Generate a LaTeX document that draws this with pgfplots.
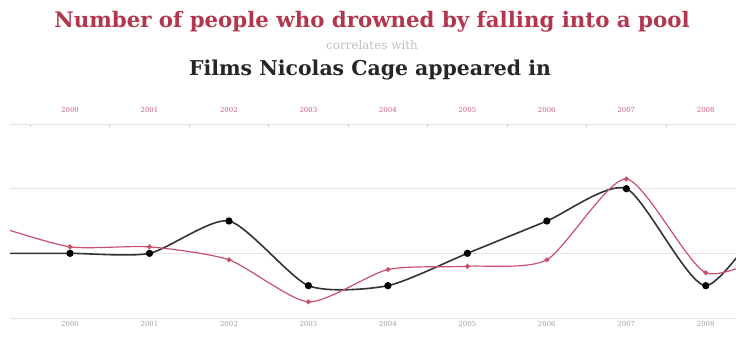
\documentclass[border=0pt]{standalone}
\usepackage{pgfplots}
\pgfplotsset{compat=1.18}
\usepackage{fontspec}
\setmainfont{DejaVu Serif}
\definecolor{titlered}{HTML}{B3364F}
\definecolor{linered}{HTML}{C9506D}
\definecolor{toplab}{HTML}{C9607A}
\definecolor{gridc}{HTML}{E3E3E3}
\definecolor{darkline}{HTML}{333333}
\begin{document}
\begin{tikzpicture}
\path[use as bounding box] (0,0) rectangle (736bp,340bp);
% black series (films)
\begin{axis}[
  at={(10bp,22bp)}, anchor=south west,
  scale only axis, width=726bp, height=194bp,
  xmin=1999.245, xmax=2008.38,
  ymin=0, ymax=6,
  ytick={0,2,4,6}, yticklabels={},
  ymajorgrids, grid style={gridc, line width=0.9pt},
  axis x line*=bottom, axis y line*=left,
  x axis line style={draw=none}, y axis line style={draw=none},
  xtick={2000,...,2008},
  xticklabel style={/pgf/number format/1000 sep={}, font=\fontsize{7}{8}\selectfont, text=gray!75},
  /pgf/number format/assume math mode=true,
  major tick length=0pt,
  clip=true,
]
\addplot[darkline, line width=1.6pt, smooth, tension=0.4, mark=*, mark size=2.8pt, mark options={fill=black, draw=black}]
coordinates {(1999,2) (2000,2) (2001,2) (2002,3) (2003,1) (2004,1) (2005,2) (2006,3) (2007,4) (2008,1) (2009,4)};
\end{axis}
% red series (drownings)
\begin{axis}[
  at={(10bp,22bp)}, anchor=south west,
  scale only axis, width=726bp, height=194bp,
  xmin=1999.245, xmax=2008.38,
  ymin=80, ymax=140,
  axis x line*=top, axis y line=none,
  x axis line style={draw=gridc, line width=0.9pt},
  xtick={2000,...,2008},
  minor xtick={1999.5,2000.5,...,2008.5},
  minor tick length=3pt, major tick length=0pt,
  minor tick style={gridc!70!gray, line width=0.6pt},
  xticklabel style={/pgf/number format/1000 sep={}, font=\fontsize{7}{8}\selectfont, text=toplab, yshift=8bp},
  /pgf/number format/assume math mode=true,
  ytick=\empty,
  clip=true,
]
\addplot[linered, line width=1.2pt, smooth, tension=0.4, mark=*, mark size=1.8pt, mark options={fill=linered, draw=linered}]
coordinates {(1999,109) (2000,102) (2001,102) (2002,98) (2003,85) (2004,95) (2005,96) (2006,98) (2007,123) (2008,94) (2009,102)};
\end{axis}
\node[font=\bfseries\fontsize{21.4}{24}\selectfont, text=titlered] at (372bp,318bp) {Number of people who drowned by falling into a pool};
\node[font=\fontsize{12}{14}\selectfont, text=gray!50] at (372bp,295bp) {correlates with};
\node[font=\bfseries\fontsize{20.5}{24}\selectfont, text=black!85] at (370bp,270bp) {Films Nicolas Cage appeared in};
\end{tikzpicture}
\end{document}
